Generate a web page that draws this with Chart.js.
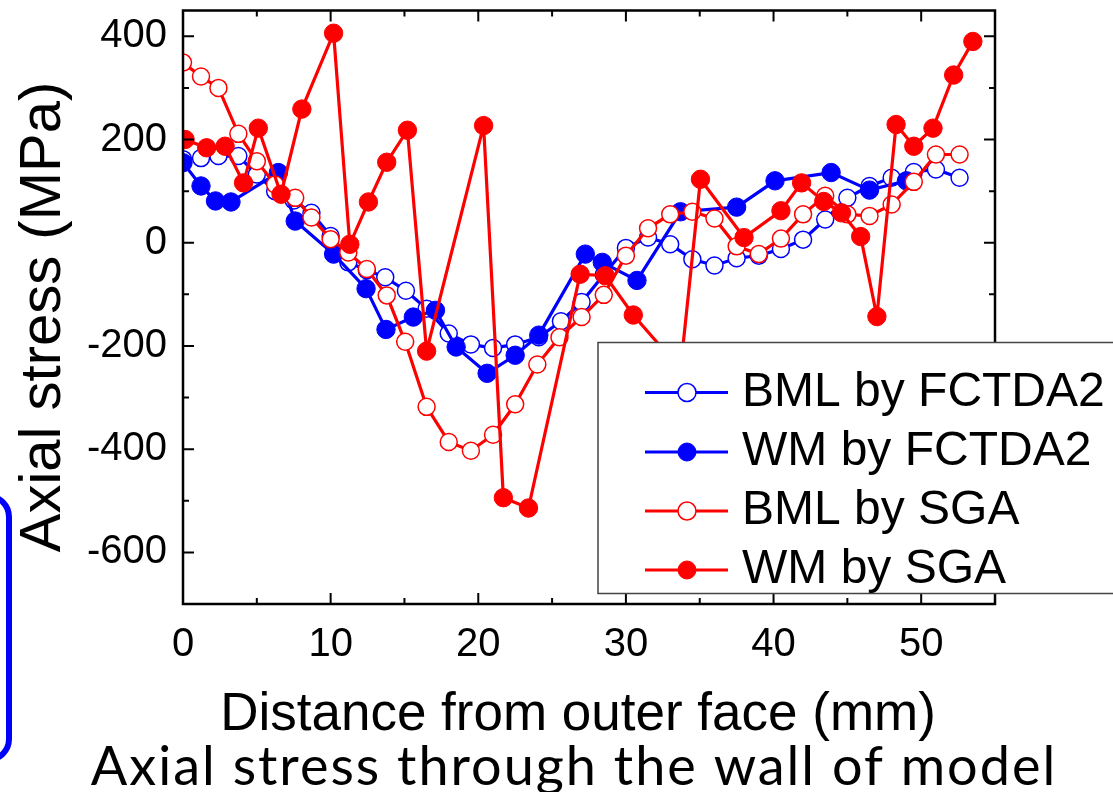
<!DOCTYPE html>
<html>
<head>
<meta charset="utf-8">
<script src="https://cdn.jsdelivr.net/npm/chart.js@4.4.1/dist/chart.umd.min.js"></script>
<style>
  html, body { margin: 0; padding: 0; background: #fff; overflow: hidden; }
  #wrap { position: relative; width: 1113px; height: 792px; }
  #bar {
    position: absolute; left: -40px; top: 493px; width: 40px; height: 258px;
    border: 6px solid #0000ff; border-radius: 24px;
  }
</style>
</head>
<body>
<div id="wrap">
  <canvas id="grafico" width="1113" height="792"></canvas>
  <div id="bar"></div>
</div>
<script>
// distance from outer face (mm) / axial stress (MPa)
const bmlFctdaX = [0, 1.22, 2.4, 3.75, 5.0, 6.24, 7.5, 8.7, 10.0, 11.2, 12.45, 13.7, 15.1, 16.5, 18.0, 19.5, 21.0, 22.5, 24.1, 25.6, 27.0, 28.5, 30.0, 31.5, 33.0, 34.5, 36.0, 37.5, 39.0, 40.5, 42.0, 43.5, 45.0, 46.5, 48.0, 49.5, 51.0, 52.6];
const bmlFctdaY = [162, 164, 168, 168, 132, 100, 82, 58, 13, -38, -53, -67, -93, -128, -176, -197, -204, -197, -183, -152, -115, -62, -10, 10, -3, -32, -44, -30, -25, -12, 6, 45, 87, 110, 126, 137, 142, 126];

const wmFctdaX = [0, 1.22, 2.2, 3.25, 6.46, 7.6, 10.2, 12.4, 13.75, 15.6, 17.1, 18.5, 20.6, 22.5, 24.1, 27.25, 28.4, 30.75, 33.7, 37.5, 40.1, 43.9, 46.5, 49.0];
const wmFctdaY = [155, 110, 81, 79, 136, 42, -22, -89, -168, -144, -131, -202, -253, -218, -179, -22, -38, -73, 60, 69, 120, 136, 102, 120];

const bmlSgaX = [0, 1.22, 2.4, 3.75, 5.0, 6.24, 7.6, 8.7, 10.0, 11.2, 12.45, 13.8, 15.05, 16.5, 18.0, 19.5, 21.0, 22.5, 24.0, 25.5, 27.0, 28.5, 30.0, 31.5, 33.0, 34.5, 36.0, 37.5, 39.0, 40.5, 42.0, 43.5, 45.0, 46.5, 48.0, 49.5, 51.0, 52.6];
const bmlSgaY = [349, 322, 300, 211, 158, 113, 87, 49, 7, -19, -51, -102, -192, -318, -386, -403, -372, -313, -236, -183, -144, -101, -25, 28, 55, 60, 47, -7, -22, 8, 55, 91, 55, 52, 74, 118, 171, 171];

const wmSgaX = [0.14, 1.6, 2.85, 4.1, 5.1, 6.64, 8.05, 10.2, 11.3, 12.56, 13.8, 15.2, 16.5, 20.36, 21.7, 23.4, 26.9, 28.6, 30.5, 33.7, 35.05, 38.0, 40.5, 41.9, 43.4, 44.6, 45.9, 47.0, 48.3, 49.5, 50.8, 52.2, 53.5];
const wmSgaY = [200, 184, 187, 116, 222, 94, 259, 406, -3, 79, 156, 218, -210, 227, -494, -514, -61, -64, -140, -245, 123, 10, 62, 116, 80, 58, 12, -143, 229, 187, 222, 325, 390];

const xTickLabels = [0, 10, 20, 30, 40, 50];
const yTickLabels = [-600, -400, -200, 0, 200, 400];

const BLUE = '#0000ff';
const RED = '#ff0000';
const ARIAL = "'Liberation Sans', Arial, sans-serif";

function pts(xs, ys) {
    return xs.map((x, i) => ({ x: x, y: ys[i] }));
}

function serie(label, xs, ys, color, filled, order) {
    return {
        label: label,
        data: pts(xs, ys),
        showLine: true,
        borderColor: color,
        borderWidth: 3.2,
        tension: 0,
        pointRadius: filled ? 9.2 : 8.5,
        pointBorderWidth: filled ? 1 : 1.5,
        pointBorderColor: color,
        pointBackgroundColor: filled ? color : '#ffffff',
        pointHoverRadius: 9,
        order: order
    };
}

// box frame with inward ticks on all four sides
const framePlugin = {
    id: 'frame',
    afterDatasetsDraw(chart) {
        const c = chart.ctx;
        const a = chart.chartArea;
        const xs = chart.scales.x, ys = chart.scales.y;
        c.save();
        c.strokeStyle = '#000';
        c.lineWidth = 2.5;
        c.strokeRect(a.left, a.top, a.right - a.left, a.bottom - a.top);
        c.lineWidth = 2;
        c.beginPath();
        for (let v = xs.min; v < xs.max; v += 5) {
            const px = xs.getPixelForValue(v);
            const len = v % 10 === 0 ? 11 : 6;
            c.moveTo(px, a.bottom); c.lineTo(px, a.bottom - len);
            c.moveTo(px, a.top); c.lineTo(px, a.top + len);
        }
        for (let v = ys.min; v <= ys.max; v += 100) {
            const py = ys.getPixelForValue(v);
            const len = v % 200 === 0 ? 11 : 6;
            c.moveTo(a.left, py); c.lineTo(a.left + len, py);
            c.moveTo(a.right, py); c.lineTo(a.right - len, py);
        }
        c.stroke();
        c.restore();
    }
};

// axis titles and the caption line at the bottom
const captions = {
    id: 'captions',
    afterDraw(chart) {
        const c = chart.ctx;
        c.save();
        c.fillStyle = '#000';
        c.textAlign = 'center';
        c.textBaseline = 'alphabetic';
        c.font = '53px ' + ARIAL;
        c.fillText('Distance from outer face (mm)', 578, 730);
        c.font = "54px Lato, 'Noto Sans', sans-serif";
        c.letterSpacing = '2px';
        c.fillText('Axial stress through the wall of model', 574, 785);
        c.letterSpacing = '0px';
        c.translate(60, 317);
        c.rotate(-Math.PI / 2);
        c.font = '58px ' + ARIAL;
        c.fillText('Axial stress (MPa)', 0, 0);
        c.restore();
    }
};

// legend box sitting over the lower right of the plot
const legendBox = {
    id: 'legendBox',
    afterDraw(chart) {
        const c = chart.ctx;
        const left = 598, top = 342.5, h = 251;
        c.save();
        c.fillStyle = '#fff';
        c.fillRect(left, top, 600, h);
        c.strokeStyle = '#444';
        c.lineWidth = 1.5;
        c.strokeRect(left, top, 600, h);
        const rows = [392.5, 452, 511, 570];
        chart.data.datasets.forEach((ds, i) => {
            const y = rows[i];
            c.strokeStyle = ds.borderColor;
            c.lineWidth = 3;
            c.beginPath();
            c.moveTo(645, y); c.lineTo(728, y);
            c.stroke();
            c.beginPath();
            c.arc(687, y, 9, 0, Math.PI * 2);
            c.fillStyle = ds.pointBackgroundColor;
            c.fill();
            c.lineWidth = ds.pointBorderWidth;
            c.stroke();
            c.fillStyle = '#000';
            c.font = '48px ' + ARIAL;
            c.textBaseline = 'middle';
            c.textAlign = 'left';
            c.fillText(ds.label, 742, y);
        });
        c.restore();
    }
};

function noPad(s) {
    s.paddingTop = 0; s.paddingBottom = 0;
    s.paddingLeft = 0; s.paddingRight = 0;
}

const ctx = document.getElementById('grafico').getContext('2d');
const myChart = new Chart(ctx, {
    type: 'scatter',
    data: {
        datasets: [
            serie('BML by FCTDA2', bmlFctdaX, bmlFctdaY, BLUE, false, 4),
            serie('WM by FCTDA2', wmFctdaX, wmFctdaY, BLUE, true, 3),
            serie('BML by SGA', bmlSgaX, bmlSgaY, RED, false, 2),
            serie('WM by SGA', wmSgaX, wmSgaY, RED, true, 1)
        ]
    },
    options: {
        responsive: false,
        animation: false,
        devicePixelRatio: 1,
        layout: { padding: { top: 7, right: 118, left: 0, bottom: 0 } },
        plugins: {
            legend: { display: false },
            tooltip: { enabled: false },
            title: { display: false }
        },
        scales: {
            x: {
                type: 'linear',
                min: 0,
                max: 55,
                afterFit(s) { s.height = 188; noPad(s); },
                grid: { display: false, drawTicks: false },
                border: { display: false },
                ticks: {
                    stepSize: 10,
                    includeBounds: false,
                    padding: 17,
                    color: '#000',
                    font: { family: ARIAL, size: 40 },
                    maxRotation: 0,
                    autoSkip: false,
                    callback: v => xTickLabels.includes(v) ? String(v) : ''
                }
            },
            y: {
                min: -700,
                max: 450,
                afterFit(s) { s.width = 183; noPad(s); },
                grid: { display: false, drawTicks: false },
                border: { display: false },
                ticks: {
                    stepSize: 100,
                    includeBounds: false,
                    padding: 16,
                    color: '#000',
                    font: { family: ARIAL, size: 40 },
                    autoSkip: false,
                    callback: v => yTickLabels.includes(v) ? String(v) : ''
                }
            }
        }
    },
    plugins: [framePlugin, captions, legendBox]
});
</script>
</body>
</html>
